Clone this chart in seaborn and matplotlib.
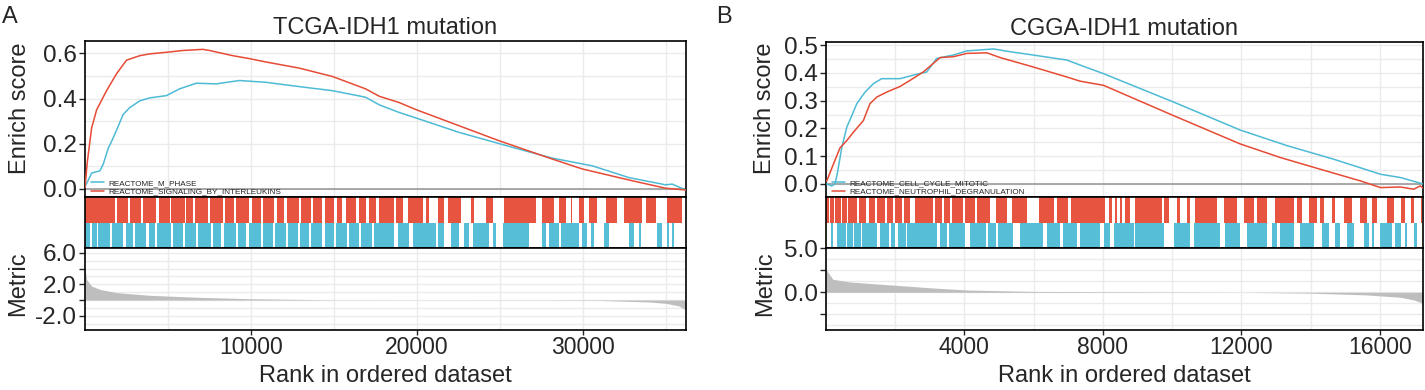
import numpy as np
import pandas as pd
import matplotlib
matplotlib.use("Agg")
import matplotlib.pyplot as plt
import seaborn as sns

sns.set_style("white")
plt.rcParams['font.family'] = ['Liberation Sans', 'DejaVu Sans']

RED = "#E64B35"
BLUE = "#4DBBD5"
GREY_FILL = "#BEBEBE"
GRID = "#EBEBEB"

titles = ["TCGA-IDH1 mutation", "CGGA-IDH1 mutation"]
panel_tags = ["A", "B"]
set_names_a = ["REACTOME_M_PHASE", "REACTOME_SIGNALING_BY_INTERLEUKINS"]
set_names_b = ["REACTOME_CELL_CYCLE_MITOTIC", "REACTOME_NEUTROPHIL_DEGRANULATION"]

# ---------------- Panel A: running enrichment scores ----------------
es_a_blue_rank = [0, 140, 400, 900, 1100, 1400, 1600, 1900, 2300, 2700, 3300, 3900, 4900, 5700,
                  6700, 7900, 9300, 10900, 12900, 14900, 16900, 17730, 18900, 19940, 22540, 25750,
                  28150, 30560, 32760, 34970, 35370, 36200]
es_a_blue = [0.01, 0.03, 0.07, 0.08, 0.11, 0.18, 0.21, 0.26, 0.33, 0.36, 0.39, 0.403, 0.413, 0.443,
             0.468, 0.465, 0.48, 0.472, 0.453, 0.435, 0.406, 0.372, 0.339, 0.314, 0.25, 0.184,
             0.136, 0.102, 0.05, 0.018, 0.021, -0.005]
es_a_red_rank = [0, 140, 400, 700, 1300, 1900, 2200, 2500, 3300, 3900, 4900, 5900, 7100, 7500,
                 8900, 9900, 10900, 12900, 14900, 16900, 17730, 18900, 19940, 24950, 28150, 29960,
                 32960, 34970, 36200]
es_a_red = [0.005, 0.12, 0.27, 0.35, 0.435, 0.51, 0.54, 0.57, 0.59, 0.598, 0.605, 0.613, 0.618, 0.613,
            0.59, 0.577, 0.562, 0.535, 0.498, 0.443, 0.41, 0.383, 0.351, 0.213, 0.132, 0.088,
            0.036, 0.003, -0.005]

# ---------------- Panel B: running enrichment scores ----------------
es_b_blue_rank = [20, 165, 260, 330, 455, 600, 745, 890, 1130, 1370, 1610, 2140, 2620, 2910, 3200,
                  3680, 4070, 4840, 5320, 5990, 6960, 7340, 8020, 10040, 11970, 13320, 14670,
                  16020, 16600, 17250]
es_b_blue = [0.0, -0.007, 0.0, 0.04, 0.13, 0.204, 0.246, 0.289, 0.331, 0.361, 0.379, 0.379, 0.395,
             0.403, 0.452, 0.464, 0.479, 0.486, 0.476, 0.464, 0.446, 0.428, 0.397, 0.295, 0.194,
             0.138, 0.089, 0.035, 0.023, 0.0]
es_b_red_rank = [20, 210, 405, 600, 790, 1080, 1270, 1470, 1760, 2140, 2430, 2810, 3100, 3300, 3680,
                 4070, 4650, 5030, 5990, 6960, 7340, 8020, 10040, 11970, 13130, 14280, 15440,
                 16020, 16600, 16980, 17170, 17250]
es_b_red = [0.01, 0.07, 0.13, 0.156, 0.186, 0.228, 0.289, 0.313, 0.331, 0.351, 0.373, 0.403, 0.434,
            0.455, 0.458, 0.47, 0.472, 0.455, 0.421, 0.385, 0.37, 0.355, 0.246, 0.144, 0.095,
            0.053, 0.011, -0.013, -0.011, -0.019, -0.007, -0.015]

# ---------------- ranked-list metric ----------------
metric_a_rank = [0, 100, 400, 900, 1900, 3900, 6900, 9900, 15000, 28000, 31000, 34000, 35000,
                 35770, 36200]
metric_a = [4.1, 2.6, 1.77, 1.35, 0.94, 0.6, 0.34, 0.17, 0.02, -0.02, -0.05, -0.25, -0.42,
            -0.75, -1.25]
metric_b_rank = [0, 200, 700, 1650, 3100, 4070, 6000, 12000, 14000, 15630, 16600, 16990, 17250]
metric_b = [2.6, 1.48, 1.17, 0.9, 0.49, 0.26, 0.1, 0.0, -0.1, -0.3, -0.57, -0.88, -1.25]

# ---------------- gene-set hit spans (start, end) in rank units ----------------
hits_a_red = [(0, 1800), (1900, 2600), (2700, 3400), (3500, 4300), (4450, 5100), (5200, 6000),
              (6100, 6500), (6650, 7400), (7500, 8300), (8450, 9000), (9100, 9900), (10050, 10600),
              (10700, 11400), (11550, 12000), (12150, 12900), (13000, 13600), (13750, 14300),
              (14450, 15000), (15150, 15500), (15700, 16300), (16500, 16900), (17100, 17500),
              (17734, 18635), (18736, 19137), (19437, 20339), (20539, 20740), (21241, 21641),
              (21842, 22643), (23245, 23445), (24147, 24547), (25249, 27153), (27553, 28255),
              (28555, 28956), (29256, 29356), (29757, 30058), (30358, 30859), (31360, 32061),
              (32462, 33564), (33765, 34366), (35067, 35969)]
hits_a_blue = [(30, 300), (400, 700), (800, 1500), (1600, 2300), (2450, 2900), (3000, 3700),
               (3850, 4200), (4350, 5200), (5300, 5900), (6050, 6700), (6800, 7600), (7700, 8200),
               (8350, 9100), (9200, 9700), (9850, 10600), (10700, 11300), (11450, 12100),
               (12200, 12800), (12950, 13500), (13600, 14300), (14450, 15000), (15100, 15800),
               (15900, 16500), (16650, 17300), (17400, 18635), (18836, 19537), (19738, 21141),
               (21241, 21641), (22042, 22543), (22843, 23144), (23345, 24347), (24547, 24747),
               (25148, 26752), (27553, 27753), (27954, 28555), (28655, 29757), (29957, 30258),
               (30458, 30659), (31260, 31560), (32762, 33063), (33363, 33464), (34466, 34767),
               (35067, 35167), (35368, 35468)]
hits_b_red = [(0, 80), (120, 220), (260, 420), (450, 610), (650, 900), (940, 1150), (1250, 1420),
              (1470, 1700), (1770, 1950), (2000, 2190), (2240, 2420), (2560, 3100), (3160, 3350),
              (3400, 3590), (3640, 3970), (4030, 4310), (4370, 4750), (4900, 5230), (5380, 5800),
              (6150, 6600), (6680, 7000), (7080, 8068), (8164, 8250), (8350, 8420), (8500, 8560),
              (8650, 8791), (8935, 9706), (9755, 9899), (10140, 10237), (10429, 10526),
              (10670, 11297), (11490, 11875), (12068, 12357), (12453, 12743), (12984, 13514),
              (13610, 13755), (13948, 14189), (14285, 14382), (14623, 14719), (14960, 15202),
              (15443, 15635), (15780, 15925), (16214, 16407), (16600, 16744), (16889, 16986),
              (17179, 17227)]
hits_b_blue = [(150, 212), (308, 570), (620, 770), (810, 1010), (1050, 1465), (1561, 1830),
               (1870, 1995), (2092, 2310), (2350, 3199), (3296, 3510), (3560, 4019), (4164, 4620),
               (4670, 4910), (4960, 5416), (5609, 6284), (6381, 6766), (6862, 7248), (7345, 7923),
               (8020, 8213), (8309, 8887), (8935, 9755), (10044, 10526), (10622, 11393),
               (11538, 11972), (12164, 12743), (12887, 13032), (13128, 13514), (13707, 14092),
               (14333, 14526), (14719, 14864), (15057, 15249), (15539, 15683), (15780, 15828),
               (16021, 16358), (16455, 16600), (16744, 16793), (16986, 17082)]

W, H = 1425, 390
fig = plt.figure(figsize=(W / 100, H / 100), dpi=100)


def frac(x0, x1, ytop, ybot):
    return [x0 / W, (H - ybot) / H, (x1 - x0) / W, (ybot - ytop) / H]


def style_box(ax):
    for s in ax.spines.values():
        s.set_visible(True)
        s.set_color("black")
        s.set_linewidth(1.2)


def panel(x0, x1, ytop, cfg):
    ax_es = fig.add_axes(frac(x0, x1, ytop, 197))
    ax_hit = fig.add_axes(frac(x0, x1, 197, 248))
    ax_m = fig.add_axes(frac(x0, x1, 248, 330))
    xmax = cfg["xmax"]

    # --- enrichment score ---
    for g in cfg["xgrid"]:
        ax_es.axvline(g, color=GRID, lw=1.0, zorder=0)
        ax_m.axvline(g, color=GRID, lw=1.0, zorder=0)
    for g in cfg["esgrid"]:
        ax_es.axhline(g, color=GRID, lw=1.0, zorder=0)
    for g in cfg["mgrid"]:
        ax_m.axhline(g, color=GRID, lw=1.0, zorder=0)
    ax_es.axhline(0, color="#9A9A9A", lw=1.2, zorder=1)

    df_b = pd.DataFrame({"rank": cfg["es_blue_rank"], "es": cfg["es_blue"]})
    df_r = pd.DataFrame({"rank": cfg["es_red_rank"], "es": cfg["es_red"]})
    sns.lineplot(data=df_b, x="rank", y="es", ax=ax_es, color=BLUE, lw=1.1,
                 label=cfg["names"][0], zorder=3)
    sns.lineplot(data=df_r, x="rank", y="es", ax=ax_es, color=RED, lw=1.1,
                 label=cfg["names"][1], zorder=3)
    ax_es.set_xlim(0, xmax)
    ax_es.set_ylim(*cfg["es_lim"])
    ax_es.set_yticks(cfg["es_ticks"])
    ax_es.set_yticklabels([f"{t:.1f}" for t in cfg["es_ticks"]])
    ax_es.set_xticks([])
    ax_es.set_xlabel("")
    ax_es.set_ylabel("Enrich score", fontsize=17)
    ax_es.yaxis.set_label_coords(cfg["ylab_x"], 0.57)
    ax_es.set_title(cfg["title"], fontsize=17, pad=5)
    ax_es.tick_params(axis="y", labelsize=17.5, length=4, width=1, direction="out", left=True, pad=2)
    ax_es.legend(loc="lower left", bbox_to_anchor=(0.0, -0.028), frameon=False,
                 fontsize=5.9, handlelength=1.6, handletextpad=0.55,
                 labelspacing=0.1, borderaxespad=0.3)
    style_box(ax_es)

    # --- hits ---
    for lst, y0, col in [(cfg["hits_red"], 1, RED), (cfg["hits_blue"], 0, BLUE)]:
        ax_hit.broken_barh([(s, max(e - s, cfg["minw"])) for s, e in lst], (y0, 1),
                           facecolors=col, edgecolor="none", alpha=0.95)
    ax_hit.set_xlim(0, xmax)
    ax_hit.set_ylim(0, 2)
    ax_hit.set_xticks([])
    ax_hit.set_yticks([])
    style_box(ax_hit)

    # --- metric ---
    ax_m.fill_between(cfg["m_rank"], 0, cfg["m"], color=GREY_FILL, lw=0, zorder=2)
    ax_m.set_xlim(0, xmax)
    ax_m.set_ylim(*cfg["m_lim"])
    ax_m.set_yticks(cfg["m_ticks"])
    ax_m.set_yticklabels(cfg["m_labels"])
    ax_m.set_xticks(cfg["xticks"])
    ax_m.set_xticklabels([str(t) for t in cfg["xticks"]])
    ax_m.tick_params(axis="y", labelsize=17.5, length=4, width=1, direction="out",
                     left=True, pad=2)
    ax_m.tick_params(axis="x", labelsize=16.5, length=3.5, width=1, direction="out",
                     bottom=True, pad=1)
    ax_m.set_ylabel("Metric", fontsize=17)
    ax_m.yaxis.set_label_coords(cfg["mlab_x"], 0.56)
    ax_m.set_xlabel("Rank in ordered dataset", fontsize=17, labelpad=4)
    style_box(ax_m)
    fig.text(cfg["tag_x"] / W, 1 - 17 / H, cfg["tag"], fontsize=17, va="center", ha="left")


panel(85, 686, 41, dict(
    xmax=36200, xgrid=np.arange(5000, 36000, 5000), esgrid=np.arange(0, 0.65, 0.1),
    mgrid=np.arange(-3, 6.5, 1.0), es_blue_rank=es_a_blue_rank, es_blue=es_a_blue,
    es_red_rank=es_a_red_rank, es_red=es_a_red, names=set_names_a,
    es_lim=(-0.036, 0.655), es_ticks=[0.0, 0.2, 0.4, 0.6], ylab_x=-0.09, mlab_x=-0.093,
    title=titles[0], hits_red=hits_a_red, hits_blue=hits_a_blue, minw=60,
    m_rank=metric_a_rank, m=metric_a, m_lim=(-3.8, 6.6), m_ticks=[6, 4, 2, 0, -2],
    m_labels=["6.0", "", "2.0", "", "-2.0"], xticks=[10000, 20000, 30000],
    tag=panel_tags[0], tag_x=2))

panel(826, 1423, 42, dict(
    xmax=17250, xgrid=np.arange(2000, 17250, 2000), esgrid=np.arange(0, 0.51, 0.05),
    mgrid=np.arange(-3.75, 5.1, 1.25), es_blue_rank=es_b_blue_rank, es_blue=es_b_blue,
    es_red_rank=es_b_red_rank, es_red=es_b_red, names=set_names_b,
    es_lim=(-0.047, 0.511), es_ticks=[0.0, 0.1, 0.2, 0.3, 0.4, 0.5], ylab_x=-0.084, mlab_x=-0.084,
    title=titles[1], hits_red=hits_b_red, hits_blue=hits_b_blue, minw=30,
    m_rank=metric_b_rank, m=metric_b, m_lim=(-4.3, 5.05), m_ticks=[5, 2.5, 0, -2.5],
    m_labels=["5.0", "", "0.0", ""], xticks=[4000, 8000, 12000, 16000],
    tag=panel_tags[1], tag_x=716))

fig.savefig("out.png", dpi=100)
